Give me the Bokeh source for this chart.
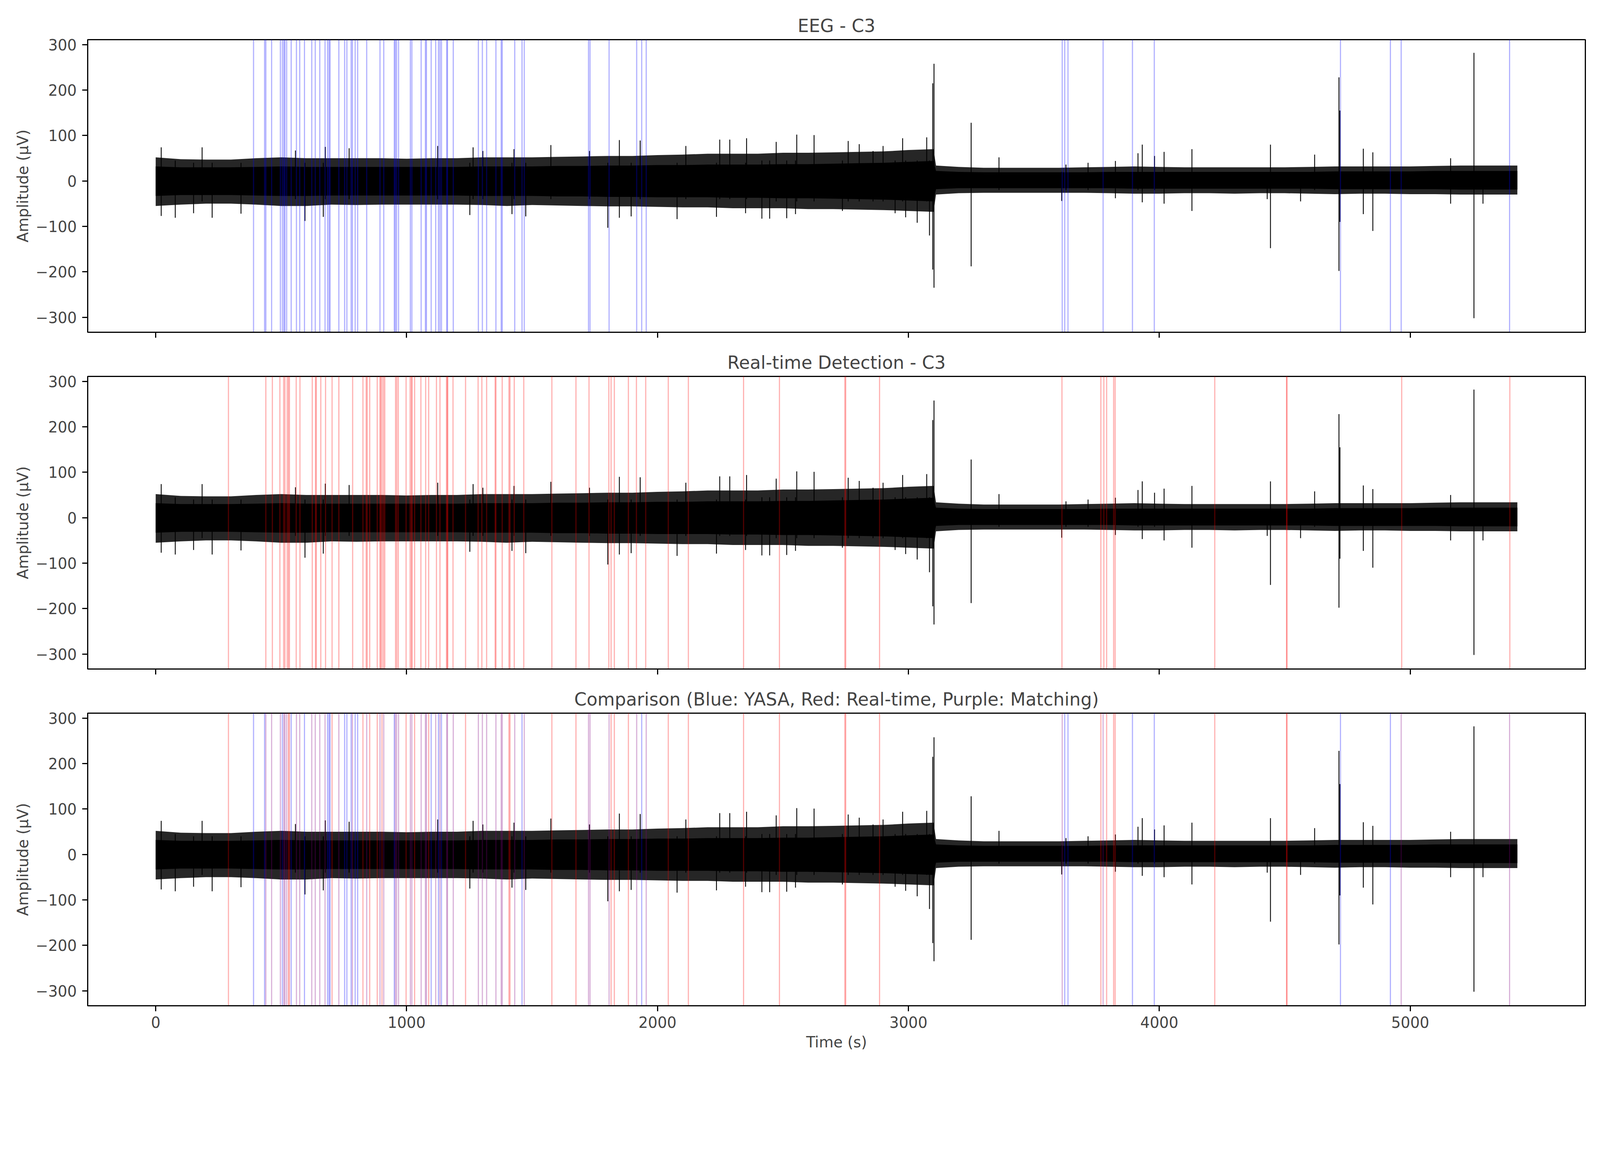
from bokeh.plotting import figure
from bokeh.models import ColumnDataSource, Range1d, FixedTicker
from bokeh.layouts import column
from bokeh.embed import file_html
from bokeh.resources import INLINE

env_t = [0, 100, 200, 300, 400, 500, 600, 700, 800, 900, 1000, 1100, 1200, 1300,
         1400, 1500, 1600, 1700, 1800, 1900, 2000, 2100, 2200, 2300, 2400, 2500,
         2600, 2700, 2800, 2900, 3000, 3100, 3110, 3200, 3300, 3400, 3500, 3600,
         3700, 3800, 3900, 4000, 4100, 4200, 4300, 4400, 4500, 4600, 4700, 4800,
         4900, 5000, 5100, 5200, 5300, 5400, 5427]
core_hi = [32, 30, 30, 30, 31, 32, 31, 31, 31, 31, 31, 31, 31, 32, 32, 32, 33, 33,
           34, 34, 35, 35, 36, 36, 36, 37, 37, 38, 39, 40, 42, 44, 22, 20, 19, 19,
           19, 19, 19, 20, 20, 20, 20, 20, 20, 20, 20, 20, 21, 21, 21, 21, 22, 22,
           22, 22, 22]
core_lo = [-33, -31, -31, -31, -32, -33, -33, -32, -32, -32, -32, -32, -32, -33,
           -33, -33, -34, -34, -35, -35, -36, -36, -36, -37, -37, -38, -38, -39,
           -40, -41, -43, -45, -18, -16, -16, -16, -16, -16, -16, -16, -17, -17,
           -17, -17, -17, -17, -17, -17, -18, -18, -18, -18, -18, -19, -19, -19, -19]
fringe_hi = [52, 48, 47, 47, 50, 52, 50, 50, 50, 50, 49, 50, 50, 52, 52, 52, 53,
             54, 55, 55, 57, 58, 60, 60, 60, 62, 62, 63, 64, 65, 68, 70, 34, 31, 29,
             29, 29, 29, 30, 31, 32, 31, 30, 30, 30, 30, 30, 31, 32, 32, 32, 32, 33,
             34, 34, 34, 34]
fringe_lo = [-55, -52, -50, -50, -52, -55, -55, -52, -53, -52, -52, -52, -52, -53,
             -55, -53, -54, -55, -56, -56, -57, -58, -58, -60, -60, -60, -62, -62,
             -63, -64, -66, -68, -30, -27, -26, -26, -26, -26, -26, -27, -28, -28,
             -27, -27, -28, -27, -27, -28, -29, -28, -28, -29, -29, -30, -30, -30, -30]

# single excursions sticking out of the band: time (s), top and bottom (µV)
spike_t = [22, 78, 151, 185, 225, 340, 557, 595, 668, 676, 771, 1124, 1252, 1265,
           1304, 1420, 1428, 1475, 1575, 1729, 1802, 1848, 1895, 1931, 2078, 2113,
           2235, 2248, 2288, 2351, 2355, 2416, 2447, 2473, 2515, 2550, 2555, 2624,
           2737, 2760, 2804, 2859, 2899, 2947, 2977, 2989, 3035, 3073, 3084, 3097,
           3102, 3250, 3361, 3611, 3628, 3716, 3825, 3915, 3932, 3981, 4019, 4130,
           4430, 4443, 4563, 4619, 4716, 4720, 4813, 4851, 5161, 5254, 5290]
spike_hi = [74, 45, 40, 74, 40, 40, 67, 40, 40, 75, 72, 77, 40, 74, 66, 40, 70, 40,
            79, 66, 40, 90, 40, 89, 40, 77, 40, 91, 91, 40, 94, 45, 45, 86, 45, 45,
            102, 101, 45, 88, 81, 66, 77, 45, 94, 45, 45, 96, 45, 215, 258, 128, 52,
            20, 36, 40, 44, 61, 80, 55, 64, 70, 20, 80, 20, 58, 228, 155, 71, 63, 50,
            282, 20]
spike_lo = [-77, -81, -71, -45, -81, -72, -40, -88, -79, -40, -40, -40, -75, -40,
            -40, -73, -40, -78, -40, -40, -103, -81, -78, -40, -84, -40, -79, -40,
            -40, -71, -40, -83, -83, -45, -82, -73, -45, -45, -66, -45, -45, -45,
            -45, -71, -45, -80, -92, -45, -120, -195, -235, -188, -20, -44, -20,
            -20, -38, -20, -47, -20, -50, -66, -40, -148, -45, -20, -198, -90, -73,
            -110, -50, -302, -50]

# spindle onsets (s)
yasa_t = [390, 434, 439, 462, 497, 505, 511, 515, 522, 540, 561, 574, 593, 622,
          636, 654, 675, 685, 691, 695, 730, 753, 762, 779, 784, 795, 805, 841,
          894, 909, 951, 955, 960, 968, 1015, 1021, 1058, 1075, 1079, 1098, 1116,
          1127, 1133, 1139, 1160, 1163, 1186, 1286, 1302, 1319, 1356, 1377, 1381,
          1431, 1460, 1469, 1725, 1731, 1807, 1917, 1937, 1955, 3613, 3623, 3636,
          3776, 3893, 3980, 4722, 4921, 4964, 5396]
realtime_t = [290, 439, 465, 495, 510, 515, 524, 529, 533, 560, 575, 624, 637, 640,
              658, 677, 703, 730, 785, 826, 839, 843, 853, 883, 894, 897, 902, 908,
              913, 956, 961, 967, 998, 1014, 1019, 1022, 1032, 1057, 1076, 1088,
              1119, 1133, 1159, 1162, 1164, 1185, 1235, 1285, 1300, 1319, 1353, 1356,
              1381, 1408, 1412, 1429, 1467, 1579, 1675, 1727, 1806, 1815, 1828, 1884,
              1916, 1953, 2043, 2123, 2343, 2486, 2747, 2750, 2885, 3612, 3767, 3779,
              3790, 3818, 3824, 4221, 4507, 4509, 4966, 5397]

x_ticks = [0, 1000, 2000, 3000, 4000, 5000]
y_ticks = [-300, -200, -100, 0, 100, 200, 300]

TOL = 4  # s, detections closer than this count as matching
matched = [t for t in yasa_t if any(abs(t - r) <= TOL for r in realtime_t)]
yasa_only = [t for t in yasa_t if t not in matched]
rt_only = [r for r in realtime_t if not any(abs(t - r) <= TOL for t in yasa_t)]

Y0, Y1 = -333, 311
FONT = "DejaVu Sans"
x_range = Range1d(-271, 5698)

env_src = ColumnDataSource(dict(t=env_t, chi=core_hi, clo=core_lo, fhi=fringe_hi, flo=fringe_lo))
spk_src = ColumnDataSource(dict(t=spike_t, hi=spike_hi, lo=spike_lo))


def events(times):
    return ColumnDataSource(dict(t=times, y0=[Y0] * len(times), y1=[Y1] * len(times)))


def vlines(p, times, color):
    p.segment(x0="t", x1="t", y0="y0", y1="y1", source=events(times),
              line_color=color, line_alpha=0.3, line_width=3.0)


def panel(title, first, last):
    p = figure(frame_width=3834, frame_height=749, x_range=x_range,
               y_range=Range1d(Y0, Y1), title=title, output_backend="svg",
               toolbar_location=None, min_border_left=224, min_border_right=20,
               min_border_top=101 if first else 94,
               min_border_bottom=140 if last else 19)
    p.grid.visible = False
    p.outline_line_color = "black"
    p.outline_line_width = 3.0
    p.background_fill_color = "white"
    p.border_fill_color = "white"

    p.title.align = "center"
    p.title.text_font = FONT
    p.title.text_font_size = "45.5px"
    p.title.text_font_style = "normal"
    p.title.standoff = 17

    # EEG trace
    p.varea(x="t", y1="flo", y2="fhi", source=env_src, fill_color="black", fill_alpha=0.85)
    p.varea(x="t", y1="clo", y2="chi", source=env_src, fill_color="black")
    p.segment(x0="t", x1="t", y0="lo", y1="hi", source=spk_src, line_color="black", line_width=2.2)

    for ax in (p.xaxis, p.yaxis):
        ax.axis_line_width = 3.0
        ax.major_tick_line_width = 3.0
        ax.major_tick_out = 14
        ax.major_tick_in = 0
        ax.minor_tick_line_color = None
        ax.major_label_text_font = FONT
        ax.major_label_text_font_size = "38.3px"
        ax.axis_label_text_font = FONT
        ax.axis_label_text_font_size = "38.3px"
        ax.axis_label_text_font_style = "normal"

    p.yaxis.ticker = FixedTicker(ticks=y_ticks)
    p.yaxis.major_label_overrides = {v: str(v).replace("-", "\u2212") for v in y_ticks}
    p.yaxis.major_label_standoff = 14
    p.yaxis.axis_label = "Amplitude (µV)"
    p.yaxis.axis_label_standoff = 7

    p.xaxis.ticker = FixedTicker(ticks=x_ticks)
    if last:
        p.xaxis.axis_label = "Time (s)"
        p.xaxis.major_label_standoff = 13
        p.xaxis.axis_label_standoff = 11
    else:
        p.xaxis.major_label_overrides = {v: "" for v in x_ticks}
        p.xaxis.major_label_standoff = 0
    return p


p1 = panel("EEG - C3", True, False)
vlines(p1, yasa_t, "blue")
p2 = panel("Real-time Detection - C3", False, False)
vlines(p2, realtime_t, "red")
p3 = panel("Comparison (Blue: YASA, Red: Real-time, Purple: Matching)", False, True)
vlines(p3, yasa_only, "blue")
vlines(p3, rt_only, "red")
vlines(p3, matched, "purple")

layout = column(p1, p2, p3, spacing=0)
open("out.html", "w").write(file_html(layout, INLINE))
